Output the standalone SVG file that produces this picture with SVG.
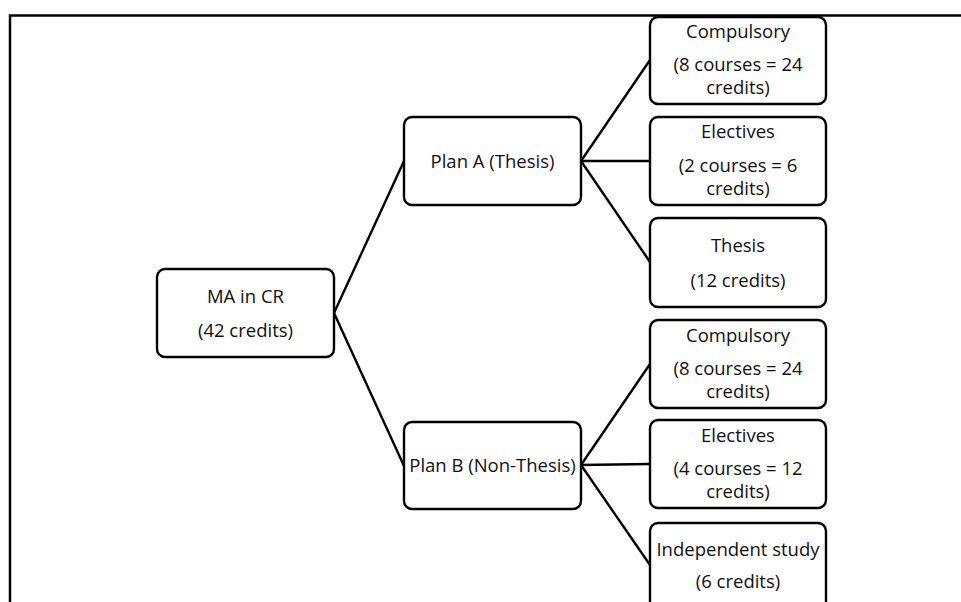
<svg xmlns="http://www.w3.org/2000/svg" width="961" height="602" viewBox="0 0 961 602">
<style>
.box{fill:#fff;stroke:#000;stroke-width:2.4}
.t{font-family:"Open Sans","Liberation Sans",sans-serif;font-size:18.5px;fill:#111;text-anchor:middle}
.c line{stroke:#000;stroke-width:2.4}
.frame{stroke:#000;stroke-width:2.5;fill:none}
</style>
<rect width="961" height="602" fill="#fff"/>
<path class="frame" d="M10 602 V15.5 H961"/>
<g class="c" id="connectors">
<line x1="334" y1="313" x2="404" y2="161"/>
<line x1="334" y1="313" x2="404" y2="466"/>
<line x1="581" y1="161" x2="650" y2="60"/>
<line x1="581" y1="161" x2="650" y2="161"/>
<line x1="581" y1="161" x2="650" y2="262"/>
<line x1="581" y1="465" x2="650" y2="364"/>
<line x1="581" y1="465" x2="650" y2="464"/>
<line x1="581" y1="465" x2="650" y2="565"/>
</g>
<g id="root">
<rect class="box" x="157" y="269" width="177" height="88" rx="8"/>
<text class="t" x="245.5" y="303">MA in CR</text>
<text class="t" x="245.5" y="337">(42 credits)</text>
</g>
<g id="planA">
<rect class="box" x="404" y="117" width="177" height="88" rx="8"/>
<text class="t" x="492.5" y="168">Plan A (Thesis)</text>
</g>
<g id="planB">
<rect class="box" x="404" y="422" width="177" height="87" rx="8"/>
<text class="t" x="492.5" y="472">Plan B (Non-Thesis)</text>
</g>
<g id="compA">
<rect class="box" x="650" y="17" width="176" height="87" rx="8"/>
<text class="t" x="738" y="38">Compulsory</text>
<text class="t" x="738" y="71">(8 courses = 24</text>
<text class="t" x="738" y="94">credits)</text>
</g>
<g id="elecA">
<rect class="box" x="650" y="117" width="176" height="88" rx="8"/>
<text class="t" x="738" y="138">Electives</text>
<text class="t" x="738" y="172">(2 courses = 6</text>
<text class="t" x="738" y="195">credits)</text>
</g>
<g id="thesis">
<rect class="box" x="650" y="218" width="176" height="89" rx="8"/>
<text class="t" x="738" y="252">Thesis</text>
<text class="t" x="738" y="287">(12 credits)</text>
</g>
<g id="compB">
<rect class="box" x="650" y="320" width="176" height="88" rx="8"/>
<text class="t" x="738" y="342">Compulsory</text>
<text class="t" x="738" y="375">(8 courses = 24</text>
<text class="t" x="738" y="398">credits)</text>
</g>
<g id="elecB">
<rect class="box" x="650" y="420" width="176" height="88" rx="8"/>
<text class="t" x="738" y="442">Electives</text>
<text class="t" x="738" y="475">(4 courses = 12</text>
<text class="t" x="738" y="498">credits)</text>
</g>
<g id="indep">
<rect class="box" x="650" y="523" width="176" height="88" rx="8"/>
<text class="t" x="738" y="556">Independent study</text>
<text class="t" x="738" y="588">(6 credits)</text>
</g>
</svg>
